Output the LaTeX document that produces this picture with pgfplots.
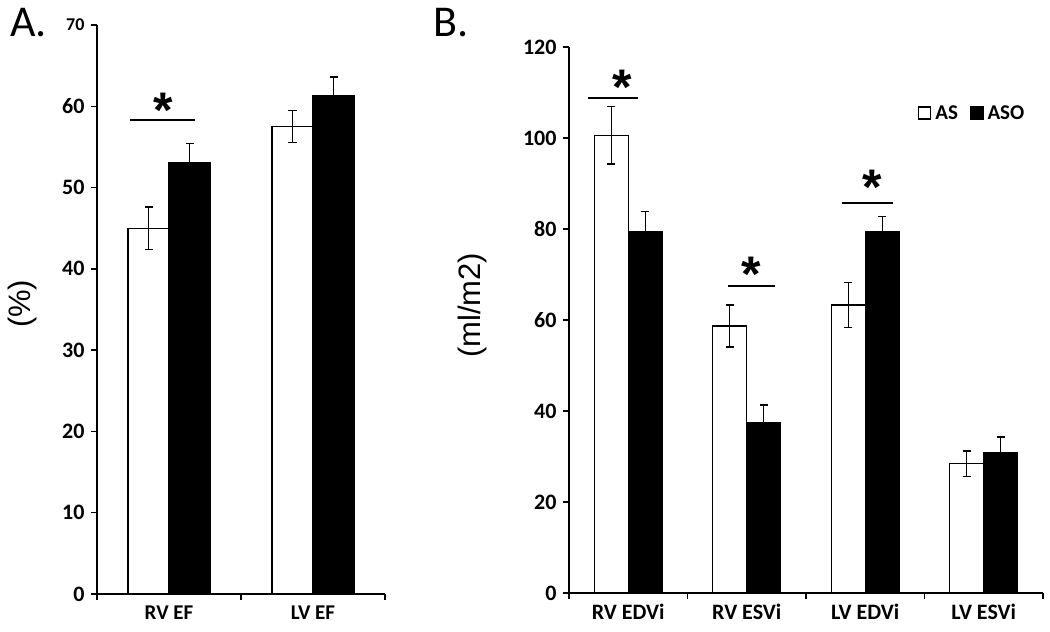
\documentclass[border=0pt]{standalone}
\usepackage{pgfplots}
\pgfplotsset{compat=1.18}
\usepackage{fontspec}
\setmainfont{Carlito}
\newfontfamily\arialfont{Liberation Sans}
\tikzset{sigstar/.style={anchor=north, inner sep=0, font=\arialfont\bfseries\fontsize{50}{50}\selectfont}}
\begin{document}
\begin{tikzpicture}
\useasboundingbox (0pt,0pt) rectangle (1050pt,632pt);
\pgfplotsset{
 panel/.style={
  scale only axis, anchor=south west,
  axis x line*=bottom, axis y line*=left,
  axis line style={line width=1.6pt, black},
  tick style={line width=1.4pt, black},
  tick align=outside, major tick length=6pt,
  ybar=0pt, ymin=0,
  xticklabels={},
  yticklabel style={font=\fontsize{22}{22}\selectfont\bfseries, xshift=-3pt},
  /pgf/number format/assume math mode=true,
  ylabel style={font=\arialfont\fontsize{31}{31}\selectfont, anchor=center},
  clip=false,
 },
 asbar/.style={draw=black, fill=white, line width=1.4pt,
  error bars/.cd, y dir=both, y explicit,
  error bar style={line width=1.4pt, black},
  error mark options={line width=1.4pt, black, mark size=4pt, rotate=90}},
 asobar/.style={draw=black, fill=black, line width=1.4pt,
  error bars/.cd, y dir=both, y explicit,
  error bar style={line width=1.4pt, black},
  error mark options={line width=1.4pt, black, mark size=4pt, rotate=90}},
}
\node[anchor=base west, font=\fontsize{44}{44}\selectfont, inner sep=0] at (10pt,595pt) {A.};
\node[anchor=base west, font=\fontsize{44}{44}\selectfont, inner sep=0] at (433pt,595pt) {B.};
% Panel A
\begin{axis}[panel, at={(97pt,38pt)}, width=288pt, height=569pt,
  bar width=41pt, xmin=-0.5, xmax=1.5, ymax=70,
  ytick={0,10,...,70},
  yticklabels={0,10,20,30,40,50,60,{\fontsize{18}{18}\selectfont\bfseries 70}},
  xtick={-0.5,0.5,1.5},
  extra x ticks={0,1}, extra x tick labels={RV EF, LV EF},
  extra x tick style={major tick length=0pt, tick label style={font=\fontsize{21}{21}\selectfont\bfseries, yshift=-8pt}},
  ylabel={(\%)}, ylabel style={at={(axis description cs:-0.26,0.51)}}]
\addplot[asbar] coordinates {(0,45.0) +- (0,2.6) (1,57.5) +- (0,1.95)};
\addplot[asobar] coordinates {(0,53.1) +- (0,2.3) (1,61.3) +- (0,2.3)};
\draw[line width=2.5pt] (axis cs:-0.27,58.3) -- (axis cs:0.18,58.3);
\node[sigstar] at (axis cs:-0.04,61.7) {*};
\end{axis}
% Panel B
\begin{axis}[panel, at={(569pt,39pt)}, width=474pt, height=546pt,
  bar width=34pt, xmin=-0.5, xmax=3.5, ymax=120,
  ytick={0,20,...,120}, xtick={-0.5,0.5,1.5,2.5,3.5},
  extra x ticks={0,1,2,3}, extra x tick labels={RV EDVi, RV ESVi, LV EDVi, LV ESVi},
  extra x tick style={major tick length=0pt, tick label style={font=\fontsize{22}{22}\selectfont\bfseries, yshift=-8pt}},
  ylabel={(ml/m2)}, ylabel style={at={(axis description cs:-0.203,0.527)}},
  legend columns=2,
  legend style={at={(0.736,0.879)}, anchor=west, draw=none, fill=none,
    font=\fontsize{21}{21}\selectfont\bfseries, inner sep=0pt,
    /tikz/every odd column/.append style={column sep=2pt},
    /tikz/every even column/.append style={column sep=10pt}},
  legend image code/.code={\draw[#1, line width=1.4pt] (0pt,-6pt) rectangle (12pt,6pt);},
  ]
\addplot[asbar] coordinates {(0,100.6) +- (0,6.3) (1,58.7) +- (0,4.6) (2,63.3) +- (0,4.9) (3,28.4) +- (0,2.8)};
\addlegendentry{AS}
\addplot[asobar] coordinates {(0,79.3) +- (0,4.6) (1,37.4) +- (0,3.9) (2,79.3) +- (0,3.4) (3,30.8) +- (0,3.5)};
\addlegendentry{ASO}
\draw[line width=2.5pt] (axis cs:-0.34,108.8) -- (axis cs:0.08,108.8);
\draw[line width=2.5pt] (axis cs:0.845,67.5) -- (axis cs:1.24,67.5);
\draw[line width=2.5pt] (axis cs:1.80,85.7) -- (axis cs:2.23,85.7);
\node[sigstar] at (axis cs:-0.05,114.9) {*};
\node[sigstar] at (axis cs:1.04,73.8) {*};
\node[sigstar] at (axis cs:2.06,93.0) {*};
\end{axis}
\end{tikzpicture}
\end{document}
